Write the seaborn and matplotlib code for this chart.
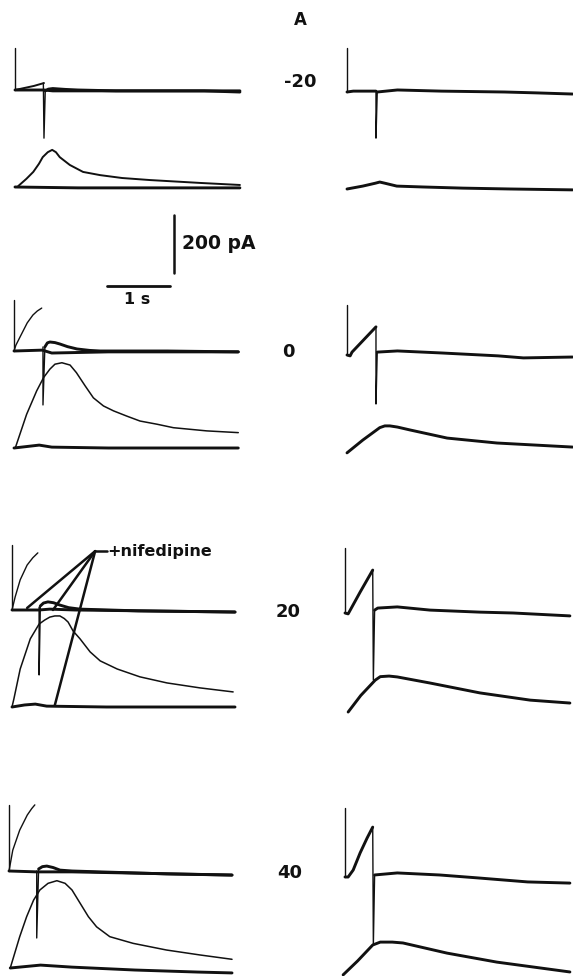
import numpy as np
import matplotlib
matplotlib.use("Agg")
import matplotlib.pyplot as plt
import seaborn as sns

sns.set_style("white")
plt.rcParams["font.family"] = ["DejaVu Sans"]

# ---------------- scale (from the scale bars) ----------------
PX_PER_S = 63.0          # 1 s
PA_PER_PX = 200.0 / 58.0 # 200 pA
CA_OFFSET_PX = 97        # lower trace drawn below the current trace

ROW_LABELS = ["-20", "0", "20", "40"]

# panel anchors (start of voltage step, current baseline)
LEFT_X0 = [15, 14, 12, 9]
LEFT_BASE = [90, 351, 610, 871]
RIGHT_X0 = [347, 347, 345, 345]
RIGHT_BASE = [92, 355, 613, 877]

# capacitive artefact heights (pA)
ART_L = [145, 176, 224, 228]
ART_R = [152, 172, 224, 238]

# ---------------- -20 mV ----------------
M20L_STEP = ([0.0, 0.15, 0.30, 0.46], [0, 7, 14, 24])
M20L_SPIKE = ([0.45, 0.46, 0.48], [24, -166, -3])
M20L_POST = ([0.48, 0.53, 0.60, 0.8, 1.0, 1.6, 2.4, 3.0, 3.57], [-3, 3, 5, 2, 0, -3, -3, -3, -7])
M20L_NIF = ([0.0, 0.46, 0.6, 3.57], [0, 0, -3, -3])
M20L_CA = ([0.05, 0.18, 0.29, 0.38, 0.44, 0.52, 0.59, 0.65, 0.71, 0.87, 1.08, 1.35, 1.7, 2.14, 2.94, 3.57],
           [3, 28, 52, 80, 103, 120, 128, 120, 103, 76, 52, 41, 31, 24, 14, 7])
M20L_CA_NIF = ([0.0, 1.0, 2.0, 3.0, 3.57], [0, -3, -3, -3, -3])

M20R_STEP = ([0.0, 0.1, 0.3, 0.46], [0, 3, 3, 3])
M20R_SPIKE = ([0.46, 0.46, 0.48], [3, -159, 0])
M20R_POST = ([0.48, 0.8, 1.5, 2.5, 3.0, 3.58], [0, 7, 3, 0, -3, -7])
M20R_CA = ([0.0, 0.25, 0.45, 0.52, 0.6, 0.79, 1.2, 1.84, 2.6, 3.58], [0, 10, 20, 24, 20, 10, 7, 3, 0, -3])

# ---------------- 0 mV ----------------
P0L_STEP = ([0.0, 0.03, 0.095, 0.21, 0.30, 0.37, 0.44], [0, 20, 48, 97, 124, 138, 148])
P0L_SPIKE = ([0.46, 0.46, 0.49], [14, -186, 14])
P0L_POST = ([0.49, 0.53, 0.57, 0.65, 0.73, 0.85, 1.0, 1.2, 1.37, 2.43, 3.56],
            [14, 28, 31, 29, 24, 15, 7, 2, 0, 0, -3])
P0L_NIF = ([0.0, 0.45, 0.6, 1.5, 3.56], [0, 3, -7, -3, -3])
P0L_CA = ([0.02, 0.2, 0.36, 0.47, 0.57, 0.65, 0.76, 0.89, 0.99, 1.13, 1.26, 1.42, 1.58, 1.79,
           2.0, 2.27, 2.53, 3.06, 3.56],
          [0, 116, 197, 243, 272, 289, 294, 286, 260, 214, 173, 145, 128, 110,
           93, 82, 70, 59, 53])
P0L_CA_NIF = ([0.0, 0.2, 0.4, 0.6, 1.5, 2.5, 3.56], [0, 5, 10, 3, 0, 0, 0])

P0R_STEP = ([0.0, 0.05, 0.08, 0.46], [0, -3, 10, 97])
P0R_SPIKE = ([0.46, 0.46, 0.48], [97, -169, 10])
P0R_POST = ([0.48, 0.8, 1.5, 2.4, 2.8, 3.58], [10, 14, 7, -3, -10, -7])
P0R_CA = ([0.0, 0.25, 0.52, 0.6, 0.68, 0.8, 1.0, 1.59, 2.38, 3.58], [-3, 41, 84, 90, 90, 86, 76, 48, 31, 17])

# ---------------- 20 mV ----------------
P20L_STEP = ([0.0, 0.05, 0.13, 0.24, 0.33, 0.41], [0, 45, 104, 155, 180, 197])
P20L_SPIKE = ([0.43, 0.43, 0.45], [10, -224, 14])
P20L_POST = ([0.45, 0.50, 0.57, 0.66, 0.76, 0.9, 1.08, 2.0, 3.54], [14, 24, 28, 25, 17, 8, 3, -3, -7])
P20L_NIF = ([0.0, 0.43, 0.6, 1.0, 3.54], [0, 0, 3, 0, -7])
P20L_CA = ([0.0, 0.03, 0.13, 0.29, 0.43, 0.52, 0.6, 0.68, 0.76, 0.83, 0.89, 0.97, 1.08, 1.24,
            1.40, 1.67, 2.03, 2.46, 2.98, 3.51],
           [0, 28, 131, 235, 286, 300, 310, 314, 314, 305, 293, 262, 235, 190,
            159, 131, 104, 83, 66, 52])
P20L_CA_NIF = ([0.0, 0.2, 0.37, 0.55, 1.5, 3.54], [0, 7, 10, 3, 0, 0])
NIF_APEX = (1.32, 203)
NIF_TARGETS_T = [0.24, 0.65, 0.68]
NIF_TARGETS_V = [7, 0, -328]

P20R_STEP = ([0.0, 0.05, 0.24, 0.44], [0, -3, 72, 148])
P20R_SPIKE = ([0.44, 0.45, 0.47], [148, -231, 10])
P20R_POST = ([0.47, 0.52, 0.83, 1.35, 2.14, 2.67, 3.57], [10, 17, 21, 10, 3, 0, -10])
P20R_CA = ([0.05, 0.25, 0.48, 0.56, 0.7, 0.83, 1.35, 2.14, 2.94, 3.57], [-7, 50, 103, 115, 117, 114, 93, 59, 34, 24])

# ---------------- 40 mV ----------------
P40L_STEP = ([0.0, 0.06, 0.17, 0.29, 0.36, 0.41], [0, 72, 141, 193, 215, 228])
P40L_SPIKE = ([0.44, 0.44, 0.47], [0, -231, 7])
P40L_POST = ([0.47, 0.53, 0.6, 0.7, 0.81, 1.0, 1.44, 2.5, 3.54], [7, 15, 17, 12, 3, 0, -3, -10, -14])
P40L_NIF = ([0.0, 0.44, 0.6, 1.0, 3.54], [0, -3, -3, -3, -14])
P40L_CA = ([0.02, 0.17, 0.28, 0.39, 0.49, 0.62, 0.76, 0.89, 1.0, 1.13, 1.26, 1.39, 1.60, 1.97,
            2.50, 3.03, 3.54],
           [0, 108, 177, 234, 269, 292, 301, 292, 269, 223, 177, 142, 108, 85,
            62, 45, 30])
P40L_CA_NIF = ([0.02, 0.5, 1.0, 2.0, 3.0, 3.54], [0, 10, 3, -7, -14, -17])

P40R_STEP = ([0.0, 0.05, 0.13, 0.24, 0.35, 0.44], [0, 0, 24, 83, 134, 172])
P40R_SPIKE = ([0.44, 0.45, 0.47], [172, -235, 7])
P40R_POST = ([0.47, 0.83, 1.5, 2.1, 2.9, 3.57], [7, 14, 7, -3, -17, -21])
P40R_CA = ([-0.03, 0.2, 0.44, 0.56, 0.75, 0.92, 1.62, 2.41, 3.57], [-3, 45, 100, 110, 110, 107, 72, 41, 7])

LEFT_PANELS = [
    (M20L_STEP, M20L_SPIKE, M20L_POST, M20L_NIF, M20L_CA, M20L_CA_NIF),
    (P0L_STEP, P0L_SPIKE, P0L_POST, P0L_NIF, P0L_CA, P0L_CA_NIF),
    (P20L_STEP, P20L_SPIKE, P20L_POST, P20L_NIF, P20L_CA, P20L_CA_NIF),
    (P40L_STEP, P40L_SPIKE, P40L_POST, P40L_NIF, P40L_CA, P40L_CA_NIF),
]
RIGHT_PANELS = [
    (M20R_STEP, M20R_SPIKE, M20R_POST, M20R_CA),
    (P0R_STEP, P0R_SPIKE, P0R_POST, P0R_CA),
    (P20R_STEP, P20R_SPIKE, P20R_POST, P20R_CA),
    (P40R_STEP, P40R_SPIKE, P40R_POST, P40R_CA),
]

# ---------------- figure ----------------
W, H = 573, 976
fig = plt.figure(figsize=(W / 100, H / 100), dpi=100)
fig.patch.set_facecolor("white")

INK = "#111111"
THICK = 2.1
MED = 1.4
THIN = 1.0
T_MIN, T_MAX = -0.2, 3.62
UP_PX, DOWN_PX = 80, 122


def panel_axes(x0, base):
    left = x0 + T_MIN * PX_PER_S
    width = (T_MAX - T_MIN) * PX_PER_S
    bottom = base + DOWN_PX
    ax = fig.add_axes([left / W, 1 - bottom / H, width / W, (UP_PX + DOWN_PX) / H])
    ax.set_xlim(T_MIN, T_MAX)
    ax.set_ylim(-DOWN_PX * PA_PER_PX, UP_PX * PA_PER_PX)
    ax.set_axis_off()
    return ax


def trace(ax, tr, lw, offset=0.0):
    t, v = tr
    sns.lineplot(x=list(t), y=list(np.asarray(v, float) + offset), ax=ax,
                 color=INK, linewidth=lw, sort=False, estimator=None,
                 legend=False, solid_capstyle="round", solid_joinstyle="round")


CA_OFF = -CA_OFFSET_PX * PA_PER_PX

axes_left = []
for i, (step, spike, post, nif, ca, ca_nif) in enumerate(LEFT_PANELS):
    ax = panel_axes(LEFT_X0[i], LEFT_BASE[i])
    axes_left.append(ax)
    trace(ax, ([0.0, 0.0], [ART_L[i], 0]), THIN)
    lw_step = MED if i == 0 else THIN
    trace(ax, step, lw_step)
    trace(ax, spike, THIN)
    trace(ax, post, THICK)
    trace(ax, nif, THICK)
    trace(ax, ca, MED if i == 0 else 1.1, CA_OFF)
    trace(ax, ca_nif, THICK, CA_OFF)

for i, (step, spike, post, ca) in enumerate(RIGHT_PANELS):
    ax = panel_axes(RIGHT_X0[i], RIGHT_BASE[i])
    trace(ax, ([0.0, 0.0], [ART_R[i], 0]), THIN)
    trace(ax, step, THICK)
    trace(ax, spike, THIN)
    trace(ax, post, THICK)
    trace(ax, ca, THICK, CA_OFF)

# +nifedipine annotation (20 mV, left)
ax20 = axes_left[2]
for tt, vv in zip(NIF_TARGETS_T, NIF_TARGETS_V):
    ax20.plot([NIF_APEX[0], tt], [NIF_APEX[1], vv], color=INK, lw=1.8,
              solid_capstyle="round")
ax20.plot([NIF_APEX[0], NIF_APEX[0] + 0.19], [NIF_APEX[1], NIF_APEX[1]], color=INK, lw=1.8)
ax20.text(NIF_APEX[0] + 0.19, NIF_APEX[1], "+nifedipine", fontsize=11.5,
          fontweight="bold", va="center", ha="left", color=INK)

# scale bars
sax = fig.add_axes([100 / W, 1 - 320 / H, 120 / W, 120 / H])
sax.set_xlim(-7 / PX_PER_S, 113 / PX_PER_S)
sax.set_ylim(-34 * PA_PER_PX, 86 * PA_PER_PX)
sax.set_axis_off()
BAR_S = [0.0, 1.0]
BAR_PA = [0.0, 200.0]
sns.lineplot(x=BAR_S, y=[0, 0], ax=sax, color=INK, linewidth=2.0, estimator=None, sort=False)
bx = 67 / PX_PER_S
by0 = 13 * PA_PER_PX
sns.lineplot(x=[bx, bx], y=[by0 + BAR_PA[0], by0 + BAR_PA[1]], ax=sax, color=INK,
             linewidth=1.8, estimator=None, sort=False)
sax.text(bx + 0.12, by0 + 100, "200 pA", fontsize=13.5, fontweight="bold",
         va="center", ha="left", color=INK)
sax.text(0.48, -14 * PA_PER_PX, "1 s", fontsize=11.5, fontweight="bold",
         va="center", ha="center", color=INK)

# labels
fig.text(300 / W, 1 - 20 / H, "A", fontsize=12, fontweight="bold", ha="center", va="center", color=INK)
LABEL_POS = [(300, 82), (288, 352), (288, 612), (290, 873)]
for lab, (px, py) in zip(ROW_LABELS, LABEL_POS):
    fig.text(px / W, 1 - py / H, lab, fontsize=13, fontweight="bold",
             ha="center", va="center", color=INK)

fig.savefig("out.png", dpi=100, facecolor="white")
